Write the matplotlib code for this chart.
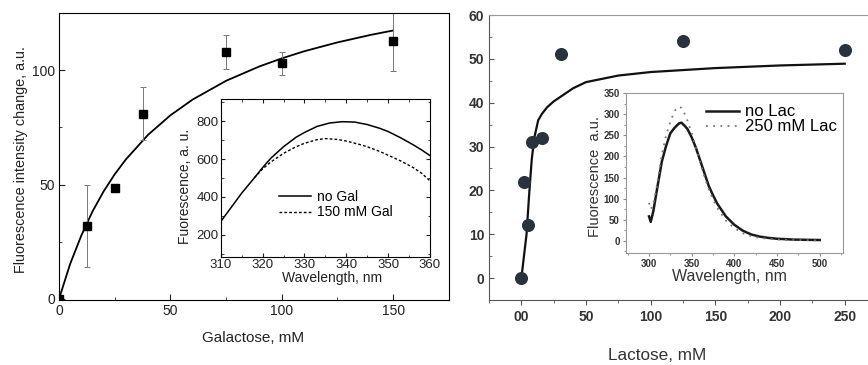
import matplotlib.pyplot as plt
from matplotlib.ticker import MultipleLocator

plt.rcParams['font.family'] = ['Liberation Sans', 'DejaVu Sans']

# Galactose titration (left panel)
gal_x = [0, 12.5, 25, 37.5, 75, 100, 150]
gal_y = [0, 32, 48.5, 81, 108, 103, 113]
gal_err = [0, 18, 1.5, 11.5, 7.3, 5, 13.5]
gal_fit_x = [0, 5, 10, 15, 20, 25, 30, 40, 50, 60, 75, 90, 100, 110, 125, 140, 150]
gal_fit_y = [0, 15.3, 27.7, 38.2, 47.0, 54.5, 61.0, 71.8, 80.3, 87.2, 95.4,
             101.7, 105.2, 108.3, 112.2, 115.5, 117.4]

# Galactose inset spectra
gal_wl = [310, 312, 315, 318, 320, 322, 325, 328, 330, 333, 336, 339, 342,
          345, 348, 350, 353, 356, 358, 360]
no_gal = [270, 330, 420, 500, 555, 605, 665, 715, 740, 772, 790, 797, 795,
          782, 762, 745, 712, 675, 648, 618]
gal_wl2 = [318, 320, 322, 325, 328, 330, 333, 335, 338, 340, 343, 345, 348,
           350, 353, 356, 358, 360]
gal_150 = [500, 548, 585, 630, 665, 683, 702, 708, 703, 695, 678, 665, 640,
           620, 590, 555, 525, 485]

# Lactose titration (right panel)
lac_x = [0, 2, 5, 8, 16, 31, 125, 250]
lac_y = [0, 22, 12, 31, 32, 51, 54, 52]
lac_fit_x = [0, 2, 4, 6, 8, 10, 13, 16, 20, 25, 30, 40, 50, 75, 100, 150, 200, 250]
lac_fit_y = [0, 5, 10, 19, 27, 32, 36, 37.5, 39, 40.3, 41.3, 43.3, 44.7, 46.2,
             47, 47.9, 48.5, 48.9]

# Lactose inset spectra
lac_wl = [300, 302, 305, 310, 315, 320, 325, 330, 335, 338, 342, 345, 350,
          355, 360, 365, 370, 375, 380, 390, 400, 410, 420, 430, 440, 450,
          470, 500]
no_lac = [58, 45, 70, 130, 188, 225, 255, 268, 278, 280, 272, 265, 245, 220,
          190, 160, 130, 108, 88, 58, 38, 24, 15, 10, 7, 5, 3, 2]
lac_250 = [90, 75, 85, 140, 205, 250, 282, 308, 318, 315, 300, 285, 255, 220,
           185, 152, 122, 98, 78, 48, 30, 18, 11, 7, 5, 3, 2, 1]

fig = plt.figure(figsize=(8.68, 3.65), dpi=100)

# ---------- left main ----------
ax1 = fig.add_axes([0.068, 0.178, 0.449, 0.786])
ax1.plot(gal_fit_x, gal_fit_y, color='black', lw=1.3)
ax1.errorbar(gal_x, gal_y, yerr=gal_err, fmt='s', color='black', ms=5.5,
             ecolor='#777777', elinewidth=0.7, capsize=2.5, capthick=0.7)
ax1.set_xlim(0, 175)
ax1.set_ylim(-0.5, 125)
ax1.set_xticks([0, 50, 100, 150])
ax1.set_yticks([0, 50, 100])
ax1.xaxis.set_minor_locator(MultipleLocator(25))
ax1.yaxis.set_minor_locator(MultipleLocator(25))
ax1.tick_params(which='both', direction='in', labelsize=10, colors='#222222')
ax1.tick_params(which='major', length=4, pad=3)
ax1.tick_params(which='minor', length=2.5)
fig.text(0.024, 0.562, 'Fluorescence intensity change, a.u.', rotation=90,
         ha='center', va='center', fontsize=10.4, color='#222222')
fig.text(0.292, 0.074, 'Galactose, mM', ha='center', va='center',
         fontsize=11, color='#222222')

# ---------- left inset ----------
ax2 = fig.add_axes([0.2543, 0.2967, 0.2411, 0.4312])
ax2.plot(gal_wl, no_gal, color='black', lw=1.1, label='no Gal')
ax2.plot(gal_wl2, gal_150, color='black', lw=1.0, ls=(0, (2, 1.5)),
         label='150 mM Gal')
ax2.set_xlim(310, 360)
ax2.set_ylim(85, 915)
ax2.set_xticks([310, 320, 330, 340, 350, 360])
ax2.set_yticks([200, 400, 600, 800])
ax2.xaxis.set_minor_locator(MultipleLocator(5))
ax2.yaxis.set_minor_locator(MultipleLocator(100))
ax2.tick_params(which='both', direction='in', top=True, right=True,
                labelsize=9.5, colors='#222222')
ax2.tick_params(which='major', length=3, pad=1.5)
ax2.tick_params(which='minor', length=1.8)
ax2.legend(loc='center left', bbox_to_anchor=(0.22, 0.33), frameon=False,
           fontsize=10, handlelength=2.3, handletextpad=0.4, labelspacing=0.1)
fig.text(0.213, 0.489, 'Fuorescence, a. u.', rotation=90, ha='center',
         va='center', fontsize=10, color='#222222')
fig.text(0.382, 0.238, 'Wavelength, nm', ha='center', va='center',
         fontsize=10, color='#222222')

# ---------- right main ----------
ax3 = fig.add_axes([0.5634, 0.178, 0.4366, 0.7808])
ax3.plot(lac_fit_x, lac_fit_y, color='#111111', lw=1.6, zorder=2)
ax3.plot(lac_x, lac_y, 'o', color='#2a333d', ms=8.4, zorder=3)
ax3.set_xlim(-25, 268)
ax3.set_ylim(-5, 60)
ax3.set_xticks([0, 50, 100, 150, 200, 250])
ax3.set_xticklabels(['00', '50', '100', '150', '200', '250'])
ax3.set_yticks([0, 10, 20, 30, 40, 50, 60])
ax3.xaxis.set_minor_locator(MultipleLocator(25))
ax3.yaxis.set_minor_locator(MultipleLocator(5))
ax3.spines['right'].set_visible(False)
ax3.spines['top'].set_color('#999999')
for s in ['left', 'bottom']:
    ax3.spines[s].set_color('#555555')
ax3.tick_params(which='both', direction='in', colors='#555555',
                labelcolor='#333333', labelsize=10)
ax3.tick_params(axis='x', which='both', direction='out')
ax3.tick_params(which='major', length=3.5)
ax3.tick_params(which='minor', length=2)
for lab in ax3.get_xticklabels() + ax3.get_yticklabels():
    lab.set_fontweight('bold')
fig.text(0.757, 0.027, 'Lactose, mM', ha='center', va='center',
         fontsize=12.3, color='#333333')

# ---------- right inset ----------
ax4 = fig.add_axes([0.7212, 0.3077, 0.2497, 0.4384])
ax4.plot(lac_wl, no_lac, color='#1a1a1a', lw=1.8, label='no Lac')
ax4.plot(lac_wl, lac_250, color='#777777', lw=1.3, ls=(0, (1, 3)),
         label='250 mM Lac')
ax4.set_xlim(273, 527)
ax4.set_ylim(-28, 351)
ax4.set_xticks([300, 350, 400, 450, 500])
ax4.set_yticks([0, 50, 100, 150, 200, 250, 300, 350])
ax4.xaxis.set_minor_locator(MultipleLocator(25))
ax4.yaxis.set_minor_locator(MultipleLocator(25))
for s in ax4.spines.values():
    s.set_color('#999999')
ax4.tick_params(which='both', direction='out', colors='#888888',
                labelcolor='#333333', labelsize=7)
ax4.tick_params(which='major', length=2.5, pad=2)
ax4.tick_params(which='minor', length=1.5)
for lab in ax4.get_xticklabels() + ax4.get_yticklabels():
    lab.set_fontweight('bold')
ax4.legend(loc='upper left', bbox_to_anchor=(0.30, 1.02), frameon=False,
           fontsize=12, handlelength=2.0, handletextpad=0.35,
           labelspacing=0.0)
fig.text(0.686, 0.515, 'Fluorescence  a.u.', rotation=90, ha='center',
         va='center', fontsize=10.5, color='#333333')
fig.text(0.840, 0.242, 'Wavelength, nm', ha='center', va='center',
         fontsize=11.5, color='#333333')

fig.savefig('out.png', dpi=100)
